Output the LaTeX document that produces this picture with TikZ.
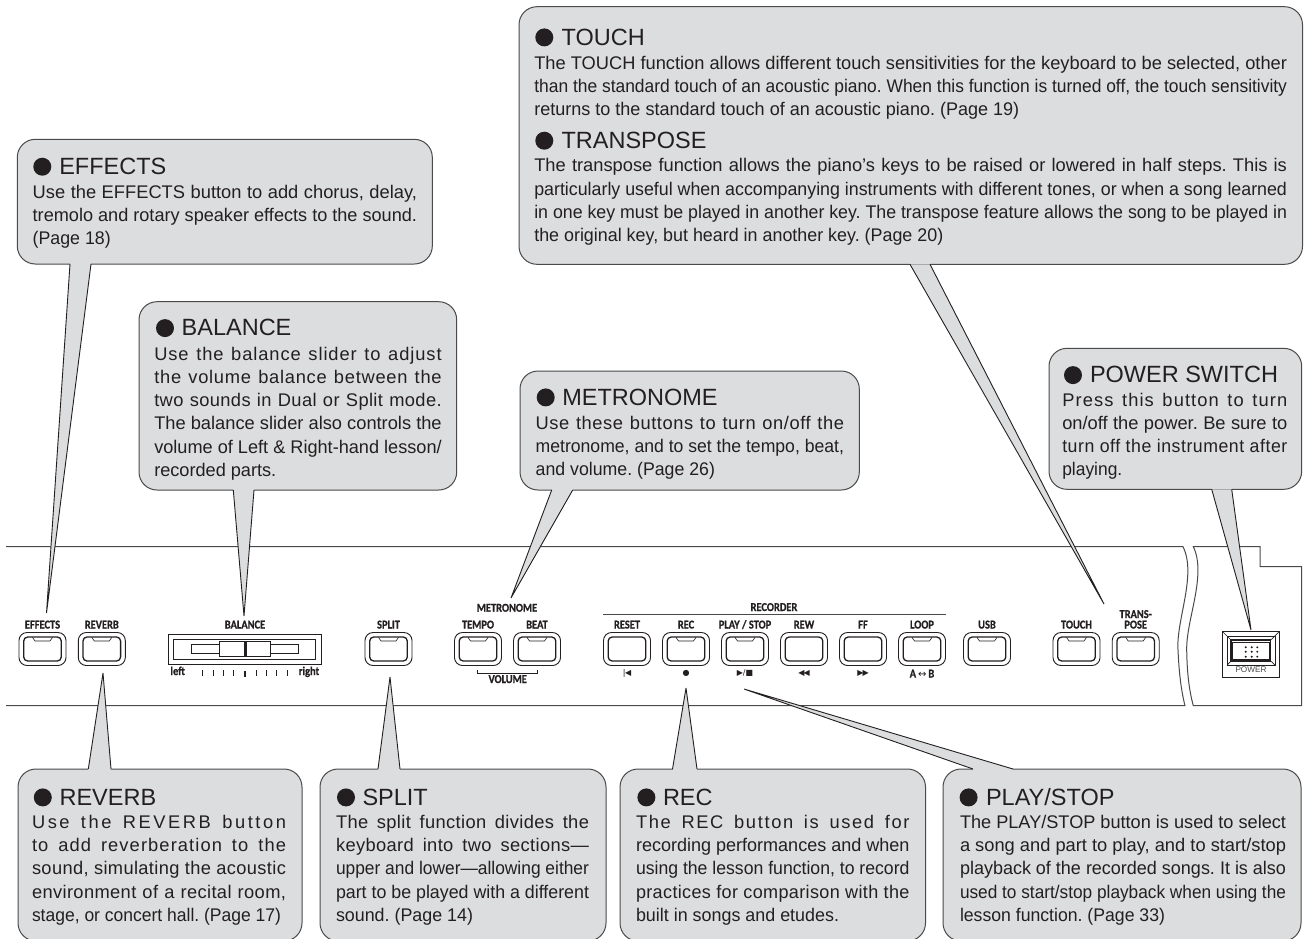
\documentclass[tikz,border=0pt]{standalone}
\usepackage{fontspec}
\usepackage{graphicx}
\setmainfont{Liberation Sans}
\newfontfamily\lblfont[FakeStretch=0.87,FakeBold=0.8]{Carlito Bold}
\newfontfamily\symfont{DejaVu Sans}
\definecolor{bubfill}{HTML}{DCDDDE}
\definecolor{ink}{HTML}{231F20}
\definecolor{edgecol}{HTML}{4A4A4A}
\newdimen\bubw
\newcommand\jline[1]{\setbox0=\hbox{#1}\ifdim\wd0>\bubw \hbox to\bubw{\resizebox{\bubw}{\height}{#1}}\else\hbox to\bubw{#1}\fi}
\newcommand\tline[2]{\jline{\addfontfeature{LetterSpace=#1}#2}}
\newcommand\pline[2]{\hbox{\resizebox{#1pt}{\height}{#2}}}
\tikzset{
  bubblebox/.style={draw=edgecol,fill=bubfill,line width=1pt,rounded corners=18pt,inner sep=0pt,outer sep=0pt},
  bodytxt/.style={anchor=base west,inner sep=0pt,outer sep=0pt,text=ink,font=\fontsize{18.3}{23.3}\selectfont\frenchspacing},
  titletxt/.style={anchor=base west,inner sep=0pt,outer sep=0pt,text=ink,font=\fontsize{23.5}{26}\selectfont},
  tailline/.style={draw=ink,line width=0.9pt,line join=bevel},
  paneline/.style={draw=edgecol,line width=1pt},
  btnouter/.style={draw=ink,line width=0.9pt,rounded corners=8pt,minimum width=47pt,minimum height=33pt,inner sep=0pt,outer sep=0pt,fill=white},
  btninner/.style={draw=ink,line width=1.3pt,rounded corners=4pt},
  ledmark/.style={draw=ink,line width=0.6pt},
  btnlabel/.style={anchor=base,inner sep=0pt,outer sep=0pt,text=ink,font=\lblfont\fontsize{12}{12.5}\selectfont},
  symlabel/.style={inner sep=0pt,outer sep=0pt,text=ink,font=\symfont\fontsize{8}{8.5}\selectfont},
  tickmark/.style={draw=ink,line width=0.8pt},
}
% name, x1, y1, x2, y2
\newcommand\bubble[5]{\node[bubblebox,minimum width={(#4-#2)*1pt},minimum height={(#5-#3)*1pt}] (#1) at ({(#2+#4)/2},{(#3+#5)/2}) {};}
% node, anchor (north/south), tip name, xL, xR
\newcommand\bubtail[5]{%
  \fill[bubfill] (#1.#2 -| #4,0) -- (#3) -- (#1.#2 -| #5,0) -- cycle;
  \path (#1.#2 -| #4,0) ++(0,\ifnum\pdfstrcmp{#2}{south}=0 -1.2\else 1.2\fi) coordinate (a#1);
  \path (#1.#2 -| #5,0) ++(0,\ifnum\pdfstrcmp{#2}{south}=0 -1.2\else 1.2\fi) coordinate (b#1);
  \fill[bubfill] (a#1) -- (#1.#2 -| #4,0) -- (#1.#2 -| #5,0) -- (b#1) -- cycle;
  \draw[tailline] (#1.#2 -| #4,0) -- (#3) -- (#1.#2 -| #5,0);}
% name, bullet left x, title x, baseline, text
\newcommand\bubtitle[5]{%
  \fill[ink] (#2+9,#4-7.6) circle (9pt);
  \node[titletxt] (#1) at (#3,#4) {#5};}
% name, x, baseline, width, lines
\newcommand\bubbody[5]{\node[bodytxt] (#1) at (#2,#3) {\bubw=#4pt\relax\vtop{\baselineskip=23.3pt #5}};}
% name, cx, label, led(1/0)
\newcommand\panelbtn[4]{%
  \node[btnouter] (#1) at (#2,649) {};
  \draw[btninner] (#2-18.8,637) rectangle (#2+18.8,661);
  \ifnum#4=1 \draw[ledmark] (#2-10,637.4) -- (#2-7.5,641) -- (#2+7.5,641) -- (#2+10,637.4);\fi
  \node[btnlabel] (#1-label) at (#2,628.5) {#3};}
\begin{document}
\begin{tikzpicture}[x=1pt,y=-1pt]
\useasboundingbox (0,0) rectangle (1304,938);
\clip (0,0) rectangle (1304,938);
\fill[white] (0,0) rectangle (1304,938);
% panel
\coordinate (pa) at (6,546.7);
\coordinate (pb) at (1183,546.7);
\coordinate (pc) at (1185,705.7);
\coordinate (pd) at (6,705.7);
\draw[paneline] (pa) -- (pb) .. controls (1197,575) and (1176,620) .. (1178,650) .. controls (1179,672) and (1181,690) .. (pc) -- (pd);
\draw[paneline] (1193.3,705.7) .. controls (1189,690) and (1187,672) .. (1186.7,650) .. controls (1186,620) and (1207,575) .. (1193.3,546.7)
   -- (1260,546.7) -- (1260,566.7) -- (1301.7,566.7) -- (1301.7,705.7) -- cycle;
% buttons
\panelbtn{effects-btn}{42.5}{EFFECTS}{1}
\panelbtn{reverb-btn}{101.8}{REVERB}{1}
\panelbtn{split-btn}{388.5}{SPLIT}{1}
\panelbtn{tempo-btn}{478}{TEMPO}{1}
\panelbtn{beat-btn}{537}{BEAT}{1}
\panelbtn{reset-btn}{627}{RESET}{0}
\panelbtn{rec-btn}{686}{REC}{1}
\panelbtn{play-btn}{745}{PLAY / STOP}{1}
\panelbtn{rew-btn}{804}{REW}{0}
\panelbtn{ff-btn}{863}{FF}{0}
\panelbtn{loop-btn}{922}{LOOP}{1}
\panelbtn{usb-btn}{987}{USB}{1}
\panelbtn{touch-btn}{1076.5}{TOUCH}{1}
\panelbtn{trans-btn}{1135.7}{POSE}{1}
\node[btnlabel] (trans-top) at (1135.7,618) {TRANS-};
\node[btnlabel] (metro-label) at (507,611.7) {METRONOME};
\node[btnlabel] (recorder-label) at (774,611) {RECORDER};
\node[btnlabel] (volume-label) at (507.7,683) {VOLUME};
\draw[paneline] (603,614) -- (946,614);
\draw[ink,line width=0.7pt] (477.7,670) -- (477.7,673.7) -- (537.7,673.7) -- (537.7,670);
% recorder symbols
\node[symlabel] (sym-reset) at (627,673) {\textbar\kern-0.5pt◀};
\node[symlabel] (sym-rec) at (686,673) {●};
\node[symlabel] (sym-play) at (745,673) {▶/■};
\node[symlabel] (sym-rew) at (804,673) {◀\kern-1pt◀};
\node[symlabel] (sym-ff) at (863,673) {▶\kern-1pt▶};
\node[btnlabel] (sym-loop) at (922,677.5) {A\,{\symfont\fontsize{10}{10}\selectfont ↔}\,B};
% balance slider
\node[btnlabel] (balance-label) at (245,628.5) {BALANCE};
\draw[ink,line width=0.9pt] (168.7,634) rectangle (321,664);
\draw[ink,line width=0.9pt] (173.3,639) rectangle (315.7,659);
\draw[ink,line width=0.8pt] (191.3,644.3) rectangle (298.7,653.3);
\draw[ink,line width=0.9pt,fill=white] (219.3,641) rectangle (270.3,656.7);
\draw[ink,line width=3pt] (245,641) -- (245,656.7);
\node[btnlabel] (bal-left) at (177.7,675) {left};
\node[btnlabel] (bal-right) at (309,675) {right};
\foreach \tx in {202.3,213.3,223.3,233.3,256,266,276.7,287.3} \draw[tickmark] (\tx,670) -- (\tx,676);
\draw[tickmark,line width=2pt] (245,670.5) -- (245,677);
% power switch
\draw[ink,line width=1.2pt] (1222.7,631.7) rectangle (1279.3,677.3);
\draw[ink,line width=0.8pt] (1227.3,636) rectangle (1275,665);
\draw[ink,line width=1.2pt] (1231,640) rectangle (1270.7,661);
\draw[ink,line width=0.7pt] (1232.8,642) rectangle (1268.9,659);
\draw[ink,line width=0.7pt] (1222.7,631.7) -- (1231,640) (1279.3,631.7) -- (1270.7,640) (1227.3,665) -- (1231,661) (1275,665) -- (1270.7,661);
\foreach \dx in {1245.7,1251.7,1257.3} \foreach \dy in {647.3,651.7,656.7} \fill[ink] (\dx,\dy) circle (1.1pt);
\node[anchor=base,inner sep=0pt,text=edgecol,font=\fontsize{8.2}{9}\selectfont] (power-label) at (1251,672.7) {POWER};
% bubbles
\coordinate (effects-tip) at (46.5,613);
\coordinate (balance-tip) at (244,616);
\coordinate (metro-tip) at (511,598);
\coordinate (touch-tip) at (1104,604);
\coordinate (power-tip) at (1251,630);
\coordinate (reverb-tip) at (103,673);
\coordinate (split-tip) at (390,677);
\coordinate (rec-tip) at (686,688);
\coordinate (playb-tip) at (744,689);

\bubble{effects}{17.3}{139.3}{432.3}{264}
\bubble{balance}{139}{301.7}{456.7}{490}
\bubble{metro}{520}{371}{859.3}{490}
\bubble{touch}{519}{6.7}{1302.5}{264.3}
\bubble{power}{1049}{348.3}{1301.7}{489.3}
\bubble{reverb}{18}{769}{302}{941}
\bubble{split}{320}{769}{606}{941}
\bubble{rec}{620}{769}{925.5}{941}
\bubble{playb}{943}{769}{1301}{941}

\bubtail{effects}{south}{effects-tip}{70}{91}
\bubtail{balance}{south}{balance-tip}{233.3}{254}
\bubtail{metro}{south}{metro-tip}{551.7}{572.7}
\bubtail{touch}{south}{touch-tip}{910}{930}
\bubtail{power}{south}{power-tip}{1211.7}{1231.7}
\bubtail{reverb}{north}{reverb-tip}{88.3}{111}
\bubtail{split}{north}{split-tip}{378}{400}
\bubtail{rec}{north}{rec-tip}{672.5}{697}
\bubtail{playb}{north}{playb-tip}{973}{1013}

\bubtitle{effects-title}{33.3}{59.3}{174.3}{EFFECTS}
\bubbody{effects-body}{32.7}{198.3}{384.3}{\jline{Use the EFFECTS button to add chorus, delay,}\jline{tremolo and rotary speaker effects to the sound.}\pline{78}{(Page 18)}}

\bubtitle{balance-title}{156}{181.7}{335.7}{BALANCE}
\bubbody{balance-body}{154.3}{360}{287.4}{\tline{5}{Use the balance slider to adjust}\tline{4}{the volume balance between the}\tline{2}{two sounds in Dual or Split mode.}\jline{The balance slider also controls the}\jline{volume of Left \& Right-hand lesson/}\pline{122}{recorded parts.}}

\bubtitle{metro-title}{536.7}{562.3}{405}{METRONOME}
\bubbody{metro-body}{535.7}{429}{308.3}{\tline{3}{Use these buttons to turn on/off the}\jline{metronome, and to set the tempo, beat,}\pline{179.3}{and volume. (Page 26)}}

\bubtitle{touch-title}{535.3}{561.6}{45}{TOUCH}
\bubbody{touch-body}{534.3}{69}{752.7}{\jline{The TOUCH function allows different touch sensitivities for the keyboard to be selected, other}\jline{than the standard touch of an acoustic piano. When this function is turned off, the touch sensitivity}\pline{485}{returns to the standard touch of an acoustic piano. (Page 19)}}
\bubtitle{transpose-title}{535.3}{561.6}{148.3}{TRANSPOSE}
\bubbody{transpose-body}{534.3}{171.7}{752.7}{\jline{The transpose function allows the piano’s keys to be raised or lowered in half steps. This is}\jline{particularly useful when accompanying instruments with different tones, or when a song learned}\jline{in one key must be played in another key. The transpose feature allows the song to be played in}\pline{409}{the original key, but heard in another key. (Page 20)}}

\bubtitle{power-title}{1064}{1090}{382.7}{POWER SWITCH}
\bubbody{power-body}{1062.3}{406}{225}{\tline{6}{Press this button to turn}\jline{on/off the power. Be sure to}\tline{3}{turn off the instrument after}\pline{60}{playing.}}

\bubtitle{reverb-title}{33.8}{59.6}{805}{REVERB}
\bubbody{reverb-body}{32}{828.3}{254}{\tline{14}{Use the REVERB button}\tline{6}{to add reverberation to the}\tline{2}{sound, simulating the acoustic}\tline{2}{environment of a recital room,}\pline{249}{stage, or concert hall. (Page 17)}}

\bubtitle{split-title}{337}{362.5}{805}{SPLIT}
\bubbody{split-body}{336}{828.3}{253}{\tline{2}{The split function divides the}\tline{2}{keyboard into two sections—}\jline{upper and lower—allowing either}\jline{part to be played with a different}\pline{137}{sound. (Page 14)}}

\bubtitle{rec-title}{637.4}{663}{805}{REC}
\bubbody{rec-body}{636}{828.3}{273.5}{\tline{9}{The REC button is used for}\jline{recording performances and when}\jline{using the lesson function, to record}\tline{2}{practices for comparison with the}\pline{203}{built in songs and etudes.}}

\bubtitle{playb-title}{959.6}{986}{805}{PLAY/STOP}
\bubbody{playb-body}{960}{828.3}{326}{\jline{The PLAY/STOP button is used to select}\jline{a song and part to play, and to start/stop}\jline{playback of the recorded songs. It is also}\jline{used to start/stop playback when using the}\pline{205}{lesson function. (Page 33)}}
\end{tikzpicture}
\end{document}
